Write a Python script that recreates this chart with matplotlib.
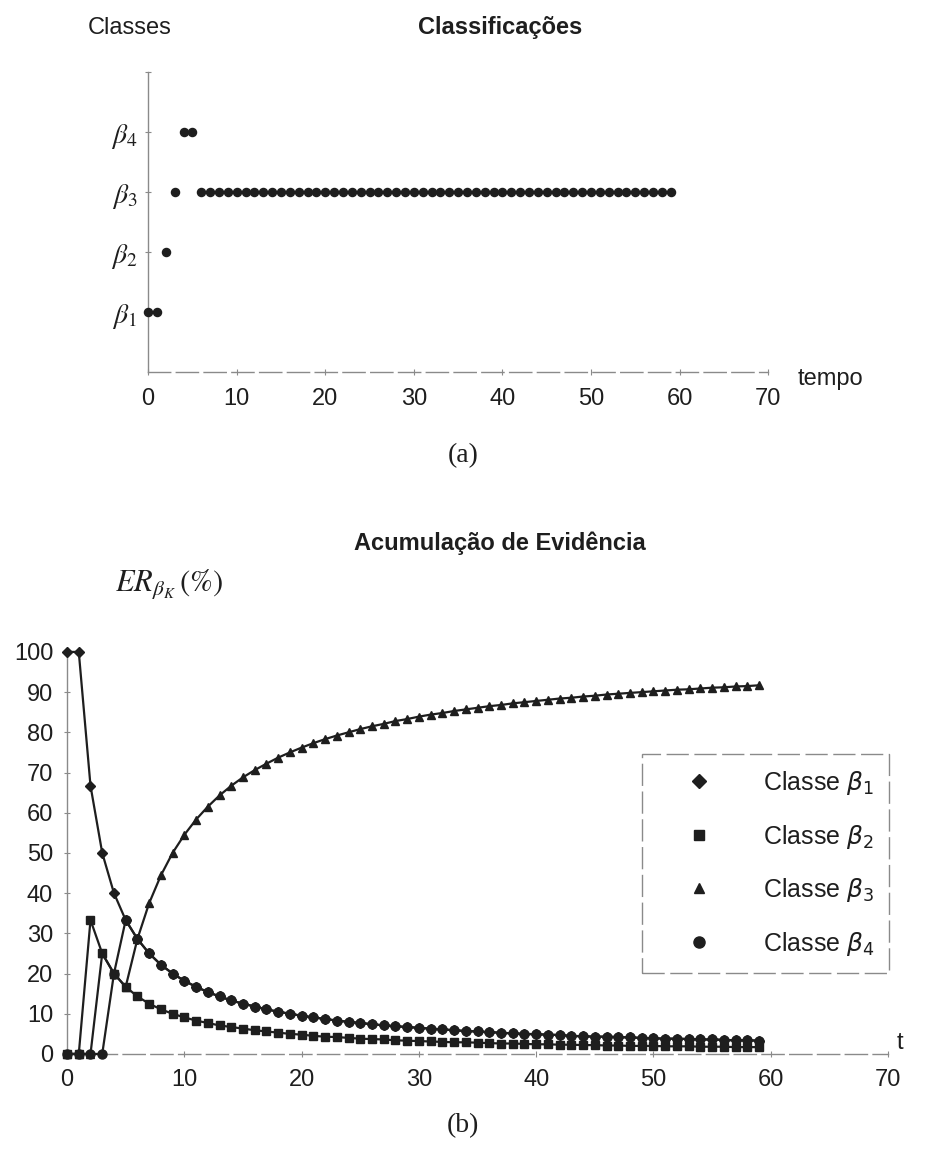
import numpy as np
import matplotlib
matplotlib.use("Agg")
import matplotlib.pyplot as plt
from matplotlib.lines import Line2D

# tempo (amostras)
tempo = np.arange(60)

# (a) classe atribuida em cada instante (1 = beta1 ... 4 = beta4)
classe = [1, 1, 2, 3, 4, 4, 3, 3, 3, 3,
          3, 3, 3, 3, 3, 3, 3, 3, 3, 3,
          3, 3, 3, 3, 3, 3, 3, 3, 3, 3,
          3, 3, 3, 3, 3, 3, 3, 3, 3, 3,
          3, 3, 3, 3, 3, 3, 3, 3, 3, 3,
          3, 3, 3, 3, 3, 3, 3, 3, 3, 3]

# (b) evidencia acumulada ER (%) por classe
er_b1 = [100.0, 100.0, 66.7, 50.0, 40.0, 33.3, 28.6, 25.0, 22.2, 20.0,
         18.2, 16.7, 15.4, 14.3, 13.3, 12.5, 11.8, 11.1, 10.5, 10.0,
         9.5, 9.1, 8.7, 8.3, 8.0, 7.7, 7.4, 7.1, 6.9, 6.7,
         6.5, 6.3, 6.1, 5.9, 5.7, 5.6, 5.4, 5.3, 5.1, 5.0,
         4.9, 4.8, 4.7, 4.5, 4.4, 4.3, 4.3, 4.2, 4.1, 4.0,
         3.9, 3.8, 3.8, 3.7, 3.6, 3.6, 3.5, 3.4, 3.4, 3.3]
er_b2 = [0.0, 0.0, 33.3, 25.0, 20.0, 16.7, 14.3, 12.5, 11.1, 10.0,
         9.1, 8.3, 7.7, 7.1, 6.7, 6.3, 5.9, 5.6, 5.3, 5.0,
         4.8, 4.5, 4.3, 4.2, 4.0, 3.8, 3.7, 3.6, 3.4, 3.3,
         3.2, 3.1, 3.0, 2.9, 2.9, 2.8, 2.7, 2.6, 2.6, 2.5,
         2.4, 2.4, 2.3, 2.3, 2.2, 2.2, 2.1, 2.1, 2.0, 2.0,
         2.0, 1.9, 1.9, 1.9, 1.8, 1.8, 1.8, 1.7, 1.7, 1.7]
er_b3 = [0.0, 0.0, 0.0, 25.0, 20.0, 16.7, 28.6, 37.5, 44.4, 50.0,
         54.5, 58.3, 61.5, 64.3, 66.7, 68.8, 70.6, 72.2, 73.7, 75.0,
         76.2, 77.3, 78.3, 79.2, 80.0, 80.8, 81.5, 82.1, 82.8, 83.3,
         83.9, 84.4, 84.8, 85.3, 85.7, 86.1, 86.5, 86.8, 87.2, 87.5,
         87.8, 88.1, 88.4, 88.6, 88.9, 89.1, 89.4, 89.6, 89.8, 90.0,
         90.2, 90.4, 90.6, 90.7, 90.9, 91.1, 91.2, 91.4, 91.5, 91.7]
er_b4 = [0.0, 0.0, 0.0, 0.0, 20.0, 33.3, 28.6, 25.0, 22.2, 20.0,
         18.2, 16.7, 15.4, 14.3, 13.3, 12.5, 11.8, 11.1, 10.5, 10.0,
         9.5, 9.1, 8.7, 8.3, 8.0, 7.7, 7.4, 7.1, 6.9, 6.7,
         6.5, 6.3, 6.1, 5.9, 5.7, 5.6, 5.4, 5.3, 5.1, 5.0,
         4.9, 4.8, 4.7, 4.5, 4.4, 4.3, 4.3, 4.2, 4.1, 4.0,
         3.9, 3.8, 3.8, 3.7, 3.6, 3.6, 3.5, 3.4, 3.4, 3.3]

rotulos_classe = [r'$\beta_1$', r'$\beta_2$', r'$\beta_3$', r'$\beta_4$']
marcadores = ['D', 's', '^', 'o']

plt.rcParams['font.family'] = ['Liberation Sans', 'DejaVu Sans']
cor = '#1e1e1e'
cinza = '#8a8a8a'
tracejado = (0, (16, 4))

fig = plt.figure(figsize=(9.26, 11.53), dpi=100)

# ---------- (a) Classificacoes ----------
ax1 = fig.add_axes([0.160, 0.677, 0.6695, 0.2602])
ax1.scatter(tempo, classe, s=34, color=cor, zorder=3, clip_on=False)
ax1.set_xlim(0, 70)
ax1.set_ylim(0, 5)
ax1.set_xticks(range(0, 71, 10))
ax1.set_yticks([1, 2, 3, 4, 5])
ax1.set_yticklabels(rotulos_classe + [''])
for lb in ax1.get_yticklabels():
    lb.set_math_fontfamily('stix')
    lb.set_fontsize(20)
ax1.tick_params(axis='x', labelsize=17, length=4, direction='inout',
                color=cinza, pad=9, labelcolor=cor)
ax1.tick_params(axis='y', length=4, direction='inout', color=cinza,
                pad=6, labelcolor=cor)
for s in ['top', 'right']:
    ax1.spines[s].set_visible(False)
ax1.spines['left'].set_color(cinza)
ax1.spines['bottom'].set_color(cinza)
ax1.spines['bottom'].set_linestyle(tracejado)
ax1.spines['left'].set_linewidth(1)
ax1.spines['bottom'].set_linewidth(1)

fig.text(0.140, 0.976, 'Classes', fontsize=17, ha='center', va='center', color=cor)
fig.text(0.54, 0.976, 'Classificações', fontsize=17, fontweight='bold',
         ha='center', va='center', color=cor)
fig.text(0.861, 0.671, 'tempo', fontsize=17, ha='left', va='center', color=cor)
fig.text(0.5, 0.605, '(a)', fontsize=20, family='Liberation Serif',
         ha='center', va='center', color=cor)

# ---------- (b) Acumulacao de Evidencia ----------
ax2 = fig.add_axes([0.0724, 0.0859, 0.8866, 0.3487])
series = [er_b1, er_b2, er_b3, er_b4]
for vals, mk in zip(series, marcadores):
    ms = 6.5 if mk == 'o' else 5.5
    ax2.plot(tempo, vals, color=cor, lw=1.6, marker=mk, ms=ms,
             clip_on=False, zorder=3)
ax2.set_xlim(0, 70)
ax2.set_ylim(0, 100)
ax2.set_xticks(range(0, 71, 10))
ax2.set_yticks(range(0, 101, 10))
ax2.tick_params(axis='both', labelsize=17, length=4, direction='inout',
                color=cinza, labelcolor=cor)
ax2.tick_params(axis='x', pad=9)
ax2.tick_params(axis='y', pad=8)
for s in ['top', 'right']:
    ax2.spines[s].set_visible(False)
ax2.spines['left'].set_color(cinza)
ax2.spines['bottom'].set_color(cinza)
ax2.spines['bottom'].set_linestyle(tracejado)
ax2.spines['left'].set_linewidth(1)
ax2.spines['bottom'].set_linewidth(1)

handles = [Line2D([], [], linestyle='none', marker=mk, color=cor,
                  ms=(8 if mk == 'o' else 7)) for mk in marcadores]
labels = ['Classe ' + r for r in rotulos_classe]
leg = fig.legend(handles, labels, loc='upper left',
                 bbox_to_anchor=(0.693, 0.346), fontsize=18,
                 frameon=True, fancybox=False, edgecolor=cinza,
                 framealpha=1, borderpad=0.6, labelspacing=1.02,
                 handlelength=3.4, handletextpad=0.85, borderaxespad=0)
leg.get_frame().set_linestyle(tracejado)
leg.get_frame().set_linewidth(1)
for tx in leg.get_texts():
    tx.set_color(cor)

fig.text(0.54, 0.529, 'Acumulação de Evidência', fontsize=17,
         fontweight='bold', ha='center', va='center', color=cor)
fig.text(0.124, 0.493, r'$ER_{\beta_K}\,\mathrm{(\%)}$', fontsize=22,
         math_fontfamily='stix', ha='left', va='center', color=cor)
fig.text(0.972, 0.095, 't', fontsize=17, ha='center', va='center', color=cor)
fig.text(0.5, 0.024, '(b)', fontsize=20, family='Liberation Serif',
         ha='center', va='center', color=cor)

fig.savefig('out.png', dpi=100, facecolor='white')
